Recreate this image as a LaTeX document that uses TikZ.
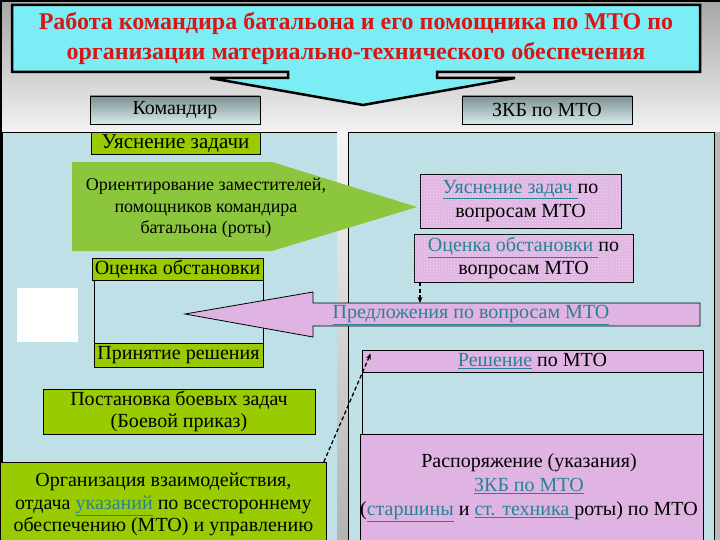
\documentclass[tikz,border=0pt]{standalone}
\usepackage{fontspec}
\setmainfont{Liberation Serif}
\usetikzlibrary{patterns,arrows.meta}
\definecolor{cyanT}{RGB}{125,237,245}
\definecolor{panel}{RGB}{190,224,230}
\definecolor{grn}{RGB}{153,204,0}
\definecolor{agrn}{RGB}{140,198,60}
\definecolor{pinkc}{RGB}{224,180,226}
\definecolor{lnkc}{RGB}{40,130,150}
\definecolor{titred}{RGB}{220,20,20}
\definecolor{hdrtop}{RGB}{125,145,148}
\definecolor{hdrbot}{RGB}{215,235,235}
\newcommand{\lnk}[1]{\textcolor{lnkc}{\underline{#1}}}
\begin{document}
\begin{tikzpicture}[x=1pt,y=-1pt,
  hdr/.style={draw=black, line width=0.8pt, top color=hdrtop, bottom color=hdrbot, inner sep=0pt,
     font=\fontsize{20}{22}\selectfont},
  gbox/.style={draw=black, line width=0.8pt, fill=grn, inner sep=0pt, align=center,
     font=\fontsize{20}{22}\selectfont},
  pbox/.style={draw=black, line width=0.8pt, fill=pinkc, inner sep=0pt, align=center,
     font=\fontsize{20}{24}\selectfont},
  dotbox/.style={pbox, postaction={pattern=crosshatch dots, pattern color=white!55!pinkc}},
  txt/.style={inner sep=0pt, align=center},
  dasharrow/.style={draw=black, line width=1.3pt, dash pattern=on 4pt off 2.5pt, -{Stealth[length=6pt,width=5pt]}}
]
\useasboundingbox (0,0) rectangle (720,540);
% background
\fill[gray!55] (0,0) rectangle (720,540);
\shade[top color=gray!70, bottom color=gray!10] (0,0) rectangle (720,132);
\draw[line width=2pt] (0,1) -- (720,1);
\draw[line width=2pt] (1,0) -- (1,540);
% panels
\draw[line width=0.8pt, fill=panel] (2,132) rectangle (337,541);
\shade[top color=gray!8, bottom color=gray!60] (337,132) rectangle (348,541);
\draw[line width=0.8pt, fill=panel] (348,132) rectangle (714,541);
% title callout
\draw[line width=2.5pt, fill=cyanT, line join=miter]
  (12,5) -- (700,5) -- (700,72) -- (437,72) -- (437,78) -- (515,78) -- (363,105)
  -- (210,78) -- (288,78) -- (288,72) -- (12,72) -- cycle;
\node[txt, text=titred, font=\fontsize{24}{30}\selectfont\bfseries] (title) at (356,38)
  {Работа командира батальона и его помощника по МТО по\\организации материально-технического обеспечения};
% headers
\node[hdr, minimum width=170, minimum height=28] (cmd) at (175,110) {Командир};
\node[hdr, minimum width=170, minimum height=28] (zkb) at (547,110) {ЗКБ по МТО};
% left column
\node[gbox, minimum width=169, minimum height=22, font=\fontsize{21}{22}\selectfont] (ut) at (175.5,143.5) {Уяснение задачи};
\fill[agrn] (72,162) -- (272,162) -- (417,207) -- (272,251) -- (72,251) -- cycle;
\node[txt, font=\fontsize{18}{21.5}\selectfont] (orient) at (206,208)
  {Ориентирование заместителей,\\помощников командира\\батальона (роты)};
\node[gbox, minimum width=171, minimum height=22] (oc) at (177.5,269) {Оценка обстановки};
\draw[line width=0.8pt] (94,280) rectangle (263,343);
\node[gbox, minimum width=169, minimum height=24] (pr) at (178.5,355) {Принятие решения};
\fill[white] (17,288) rectangle (78,342);
\node[gbox, minimum width=272, minimum height=45] (pbz) at (179,411.5)
  {Постановка боевых задач\\(Боевой приказ)};
\node[gbox, minimum width=326, minimum height=84, font=\fontsize{20}{22.5}\selectfont, anchor=north west] (org) at (0,462)
  {Организация взаимодействия,\\отдача \lnk{указаний} по всестороннему\\обеспечению (МТО) и управлению};
% right column
\node[dotbox, minimum width=201, minimum height=54] (uz) at (520.5,201)
  {\lnk{Уяснение задач }по\\вопросам МТО};
\node[dotbox, minimum width=219, minimum height=48, font=\fontsize{20}{23}\selectfont] (oo) at (523.5,258)
  {\lnk{Оценка обстановки }по\\вопросам МТО};
\draw[line width=0.8pt, fill=pinkc] (185,314) -- (313,292) -- (313,303) -- (700,303) -- (700,326)
  -- (313,326) -- (313,337) -- cycle;
\node[txt, font=\fontsize{20}{22}\selectfont] (predl) at (471,315) {\lnk{Предложения по вопросам МТО}};
\coordinate (prtop) at (420,303);
\draw[dasharrow] (prtop |- oo.south) -- (prtop);
\node[pbox, minimum width=341, minimum height=22] (resh) at (532.5,361) {\lnk{Решение} по МТО};
\draw[line width=0.8pt] (362,372) rectangle (703,434);
\node[pbox, minimum width=343, minimum height=112, anchor=north west] (rasp) at (360,434) {};
\node[txt, font=\fontsize{20}{24}\selectfont] (rasptxt) at (529,488)
  {Распоряжение (указания)\\\lnk{ЗКБ по МТО}\\(\lnk{старшины} и \lnk{ст. техника }роты) по МТО};
\draw[dasharrow] ([xshift=-3pt]org.north east) -- ([xshift=9pt,yshift=-4pt]resh.north west);
\end{tikzpicture}
\end{document}
